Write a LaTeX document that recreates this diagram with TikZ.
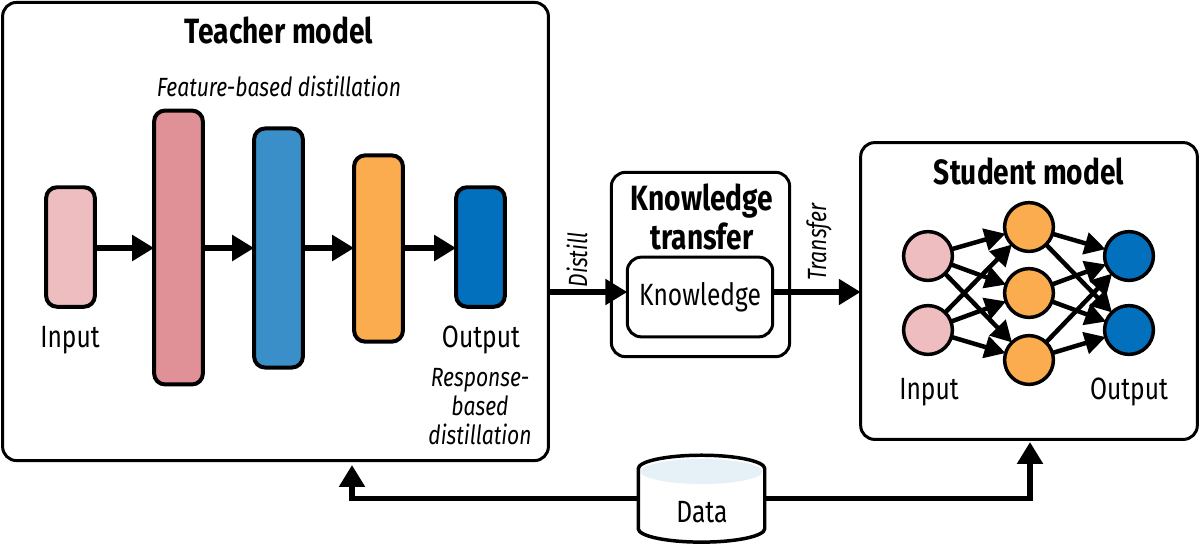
\documentclass[tikz,border=0pt]{standalone}
\usepackage{fontspec}
\setmainfont{Fira Sans}[FakeStretch=0.8]
\usetikzlibrary{positioning,calc,arrows.meta}
\def\pxu{0.5669pt}
\definecolor{palepink}{HTML}{EDBDC0}
\definecolor{rose}{HTML}{E09197}
\definecolor{midblue}{HTML}{3A8FC9}
\definecolor{amber}{HTML}{FBAC4F}
\definecolor{deepblue}{HTML}{0270BC}
\definecolor{datatop}{HTML}{E6F0F7}
\tikzset{
    panel/.style={draw, line width=3*\pxu, rounded corners=14*\pxu, inner sep=0pt, outer sep=0pt},
    bar/.style={draw, line width=4*\pxu, rounded corners=11*\pxu, inner sep=0pt, outer sep=0pt, minimum width=49*\pxu},
    neuron/.style={draw, circle, line width=3.5*\pxu, inner sep=0pt, outer sep=0pt, minimum size=49*\pxu},
    flow/.style={line width=5.5*\pxu, -{Triangle[length=22*\pxu, width=25*\pxu]}},
    link/.style={line width=4.5*\pxu, -{Triangle[length=21*\pxu, width=22*\pxu]}},
    titletext/.style={font=\fontsize{20pt}{22pt}\selectfont\bfseries, align=center},
    plaintext/.style={font=\fontsize{17.5pt}{20pt}\selectfont, align=center},
    notetext/.style={font=\fontsize{15pt}{16.5pt}\selectfont\itshape, align=center},
}
\begin{document}
\begin{tikzpicture}[x=0.02cm, y=-0.02cm]
    \useasboundingbox (0,0) rectangle (1200,545);

    % boxes
    \node[panel, minimum width=548*\pxu, minimum height=460*\pxu] (teacher) at (275.5,231.5) {};
    \node[panel, minimum width=179*\pxu, minimum height=185*\pxu] (transfer) at (700.5,264.5) {};
    \node[panel, plaintext, minimum width=146*\pxu, minimum height=80*\pxu] (knowledge) at (700,297) {Knowledge};
    \node[panel, minimum width=338*\pxu, minimum height=298*\pxu] (student) at (1029,291) {};

    % titles
    \node[titletext] (teachertitle) at (279,30) {Teacher model};
    \node[titletext] (transfertitle) at (702,217) {Knowledge\\transfer};
    \node[titletext] (studenttitle) at (1029,171) {Student model};
    \node[notetext] (featurenote) at (279,86) {Feature-based distillation};
    \node[notetext] (responsenote) at (480,407) {Response-\\based\\distillation};

    % teacher layers
    \node[bar, fill=palepink, minimum height=120*\pxu] (input) at (70.5,247) {};
    \node[bar, fill=rose, minimum height=275*\pxu] (layerA) at (178.5,247.5) {};
    \node[bar, fill=midblue, minimum height=240*\pxu] (layerB) at (278.5,248) {};
    \node[bar, fill=amber, minimum height=187*\pxu] (layerC) at (378.5,248.5) {};
    \node[bar, fill=deepblue, minimum height=120*\pxu] (output) at (480.5,247) {};
    \node[plaintext] (inputlabel) at (70,340) {Input};
    \node[plaintext] (outputlabel) at (481,340) {Output};

    \draw[flow] (input.east |- 0,248) -- (layerA.west |- 0,248);
    \draw[flow] (layerA.east |- 0,248) -- (layerB.west |- 0,248);
    \draw[flow] (layerB.east |- 0,248) -- (layerC.west |- 0,248);
    \draw[flow] (layerC.east |- 0,248) -- (output.west |- 0,248);

    % student network
    \node[neuron, fill=palepink] (inA) at (928,256) {};
    \node[neuron, fill=palepink] (inB) at (928,330) {};
    \node[neuron, fill=amber] (hidA) at (1029,227) {};
    \node[neuron, fill=amber] (hidB) at (1029,293) {};
    \node[neuron, fill=amber] (hidC) at (1029,360) {};
    \node[neuron, fill=deepblue] (outA) at (1129,256) {};
    \node[neuron, fill=deepblue] (outB) at (1129,330) {};
    \foreach \a in {inA,inB}
        \foreach \b in {hidA,hidB,hidC}
            \draw[link] (\a) -- (\b);
    \foreach \a in {hidA,hidB,hidC}
        \foreach \b in {outA,outB}
            \draw[link] (\a) -- (\b);
    \node[plaintext] (netinput) at (929,392) {Input};
    \node[plaintext] (netoutput) at (1129,392) {Output};

    % flow between boxes
    \draw[flow] (teacher.east |- 0,292) -- (knowledge.west |- 0,292);
    \draw[flow] (knowledge.east |- 0,292) -- (student.west |- 0,292);
    \node[notetext, rotate=90] (distill) at (577,260) {Distill};
    \node[notetext, rotate=90] (transferlabel) at (819,242) {Transfer};

    % data store
    \node[minimum width=127*\pxu, minimum height=87*\pxu, inner sep=0pt, outer sep=0pt] (data) at (701.5,498.5) {};
    \fill[white] (data.north west) ++(0,13.5) -- ++(0,60) arc[start angle=180, end angle=360, x radius=63.5*\pxu, y radius=13.5*\pxu]
        -- ++(0,-60) arc[start angle=0, end angle=180, x radius=63.5*\pxu, y radius=13.5*\pxu] -- cycle;
    \fill[datatop] (701.5,471.5) ellipse[x radius=61*\pxu, y radius=12.5*\pxu];
    \draw[line width=3.5*\pxu] (data.north west) ++(0,13.5) -- ++(0,60) arc[start angle=180, end angle=360, x radius=63.5*\pxu, y radius=13.5*\pxu]
        -- ++(0,-60) arc[start angle=0, end angle=180, x radius=63.5*\pxu, y radius=13.5*\pxu] -- cycle;
    \node[plaintext] (datalabel) at (702,512) {Data};
    \coordinate (teacherin) at (352,465);
    \coordinate (studentin) at (1030,442);
    \draw[flow] (data.west) -| (teacherin);
    \draw[flow] (data.east) -| (studentin);
\end{tikzpicture}
\end{document}
